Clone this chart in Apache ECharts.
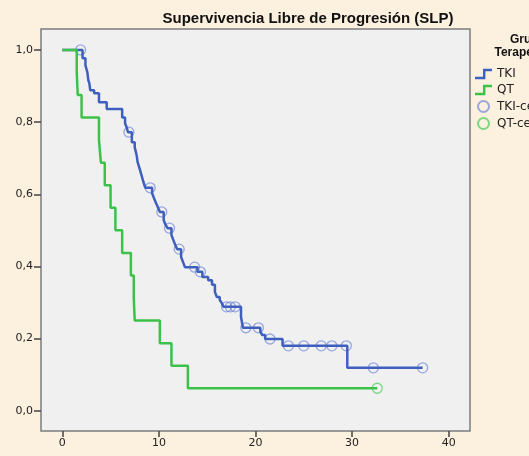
<!DOCTYPE html>
<html>
<head>
<meta charset="UTF-8" />
<title>Supervivencia Libre de Progresión (SLP)</title>
<style>
  html, body { margin: 0; padding: 0; background: #fcf0de; }
  #chart { width: 529px; height: 456px; }
</style>
</head>
<body>
<!-- contenedor del grafico -->
<div id="chart"></div>
<script src="https://cdn.jsdelivr.net/npm/echarts@6/dist/echarts.min.js"></script>
<script type="text/javascript">
// curva TKI: tiempo del evento y supervivencia despues del evento
var tkiTime = [0, 2.1, 2.4, 2.6, 2.7, 2.8, 2.9, 3.3, 3.8, 4.6, 6.2, 6.5, 6.7, 6.8, 7.2, 7.5, 7.7, 7.8, 8.0, 8.2,
  8.4, 8.6, 9.3, 9.5, 9.7, 9.9, 10.1, 10.5, 10.7, 10.9, 11.3, 11.5, 11.7, 11.9, 12.3, 12.5, 12.7, 14.0, 14.5,
  15.1, 15.5, 15.8, 16.0, 16.3, 16.5, 16.7, 18.5, 18.7, 20.5, 20.7, 21.0, 22.8, 29.5, 37.3];
var tkiSurv = [1, 0.977, 0.957, 0.938, 0.916, 0.908, 0.888, 0.880, 0.855, 0.836, 0.813, 0.797, 0.783, 0.772,
  0.744, 0.730, 0.708, 0.689, 0.672, 0.653, 0.634, 0.618, 0.603, 0.589, 0.576, 0.564, 0.551, 0.528, 0.515,
  0.506, 0.487, 0.473, 0.459, 0.448, 0.426, 0.412, 0.398, 0.385, 0.371, 0.362, 0.349, 0.329, 0.315, 0.307,
  0.299, 0.288, 0.260, 0.230, 0.219, 0.210, 0.199, 0.180, 0.119, 0.119];
// casos censurados TKI
var tkiCens = [1.9, 6.9, 9.1, 10.3, 11.1, 12.1, 13.7, 14.3, 17.0, 17.4, 17.9, 19.0, 20.3, 21.5, 23.4, 25.0,
  26.8, 27.9, 29.4, 32.2, 37.3];

// curva QT
var qtTime = [0, 1.5, 1.6, 2.0, 3.8, 4.0, 4.4, 5.0, 5.5, 6.2, 7.1, 7.4, 7.5, 10.1, 11.3, 13.0, 32.6];
var qtSurv = [1, 0.9375, 0.875, 0.8125, 0.75, 0.6875, 0.625, 0.5625, 0.5, 0.4375, 0.375, 0.3125, 0.25,
  0.1875, 0.125, 0.0625, 0.0625];
var qtCens = [32.6];

// marcas de los ejes
var xTicks = [0, 10, 20, 30, 40];
var yTicks = [0, 0.2, 0.4, 0.6, 0.8, 1.0];

var blue = '#3f5fbf';
var green = '#3cc24a';

/** pares [t, S] para la linea escalonada */
function pairs(times, surv) {
  var out = [];
  for (var i = 0; i < times.length; i++) out.push([times[i], surv[i]]);
  return out;
}

/** valor de la curva en el tiempo t (para colocar los censurados) */
function survAt(times, surv, t) {
  var s = surv[0];
  for (var i = 0; i < times.length; i++) {
    if (times[i] <= t) s = surv[i];
  }
  return s;
}

function censPoints(cens, times, surv) {
  return cens.map(function (t) { return [t, survAt(times, surv, t)]; });
}

var stepIcon = 'path://M0,8 L8,8 L8,0 L17,0 L17,2.4 L10.4,2.4 L10.4,10.4 L0,10.4 Z';

var chart = echarts.init(document.getElementById('chart'));
chart.setOption({
  animation: false,
  backgroundColor: '#fcf0de',
  title: [
    {
      text: 'Supervivencia Libre de Progresión (SLP)',
      left: 303,
      top: 6,
      textAlign: 'center',
      textStyle: { fontFamily: 'Liberation Sans', fontWeight: 'bold', fontSize: 15, color: '#111' }
    },
    {
      text: 'Grupo\nTerapéutico',
      left: 523,
      top: 28,
      textAlign: 'center',
      textStyle: { fontFamily: 'Liberation Sans', fontWeight: 'bold', fontSize: 12, color: '#111', lineHeight: 13 }
    }
  ],
  legend: {
    orient: 'vertical',
    left: 470,
    top: 63,
    itemWidth: 17,
    itemHeight: 11,
    itemGap: 4,
    textStyle: { fontFamily: 'DejaVu Sans', fontSize: 12, color: '#222' },
    data: [
      { name: 'TKI', icon: stepIcon },
      { name: 'QT', icon: stepIcon },
      { name: 'TKI-censurado', icon: 'circle' },
      { name: 'QT-censurado', icon: 'circle' }
    ]
  },
  grid: {
    left: 41,
    top: 29,
    right: 59,
    bottom: 25,
    show: true,
    backgroundColor: '#f0f0f0',
    borderColor: '#7c7c7c',
    borderWidth: 1.5
  },
  xAxis: {
    type: 'value',
    min: -2.2,
    max: 42.2,
    axisLine: { show: false, onZero: false },
    splitLine: { show: false },
    axisTick: { show: true, inside: false, length: 6, customValues: xTicks, lineStyle: { color: '#444', width: 1.5 } },
    axisLabel: {
      customValues: xTicks,
      margin: 7,
      fontFamily: 'DejaVu Sans',
      fontSize: 11,
      color: '#222'
    }
  },
  yAxis: {
    type: 'value',
    min: -0.056,
    max: 1.058,
    axisLine: { show: false, onZero: false },
    splitLine: { show: false },
    axisTick: { show: true, inside: false, length: 7, customValues: yTicks, lineStyle: { color: '#444', width: 1.5 } },
    axisLabel: {
      customValues: yTicks,
      margin: 8,
      fontFamily: 'DejaVu Sans',
      fontSize: 11,
      color: '#222',
      formatter: function (v) { return v.toFixed(1).replace('.', ','); }
    }
  },
  series: [
    {
      name: 'TKI',
      type: 'line',
      step: 'end',
      showSymbol: false,
      color: blue,
      lineStyle: { color: blue, width: 2.5 },
      data: pairs(tkiTime, tkiSurv)
    },
    {
      name: 'QT',
      type: 'line',
      step: 'end',
      showSymbol: false,
      color: green,
      lineStyle: { color: green, width: 2.5 },
      data: pairs(qtTime, qtSurv)
    },
    {
      name: 'TKI-censurado',
      type: 'scatter',
      symbol: 'circle',
      symbolSize: 10,
      itemStyle: { color: 'rgba(0,0,0,0)', borderColor: 'rgba(100,125,215,0.8)', borderWidth: 1.3 },
      data: censPoints(tkiCens, tkiTime, tkiSurv)
    },
    {
      name: 'QT-censurado',
      type: 'scatter',
      symbol: 'circle',
      symbolSize: 10,
      itemStyle: { color: 'rgba(0,0,0,0)', borderColor: 'rgba(80,205,95,0.9)', borderWidth: 1.3 },
      data: censPoints(qtCens, qtTime, qtSurv)
    }
  ]
});
</script>
</body>
</html>
